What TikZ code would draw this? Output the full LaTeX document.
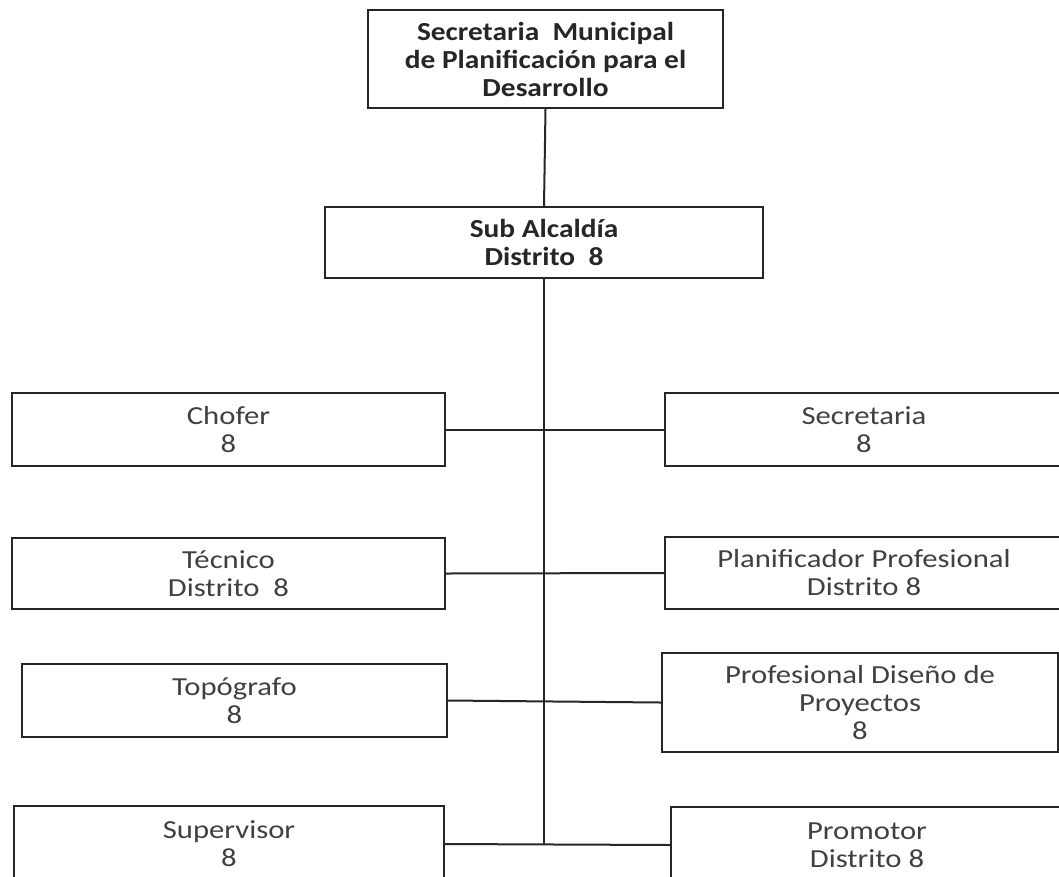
\documentclass[tikz,border=0pt]{standalone}
\usepackage{fontspec}
\setmainfont{Carlito}[FakeStretch=1.18]
\newfontfamily\headfont{Carlito}[FakeStretch=1.13]
\begin{document}
\begin{tikzpicture}[x=1pt,y=-1pt,
  box/.style={draw=black!85, line width=2pt, fill=white, align=center, inner sep=0pt,
              text=black!75, font=\fontsize{26}{28}\selectfont},
  headbox/.style={box, text=black!85, font=\headfont\bfseries\fontsize{26}{28}\selectfont},
  link/.style={draw=black!85, line width=2pt}]
\useasboundingbox (0,0) rectangle (1059,876);
\clip (0,0) rectangle (1059,876);
\fill[white] (0,0) rectangle (1059,876);

\node[headbox, minimum width=355pt, minimum height=98pt] (top) at (545.5,59)
  {Secretaria\ \ Municipal\\de Planificación para el\\Desarrollo};
\node[headbox, minimum width=438pt, minimum height=71pt] (sub) at (544,242.5)
  {Sub Alcaldía\\Distrito\ \ 8};

\node[box, minimum width=433pt, minimum height=73pt] (chofer) at (228.5,429.5) {Chofer\\8};
\node[box, minimum width=398pt, minimum height=73pt] (secr) at (864,429.5) {Secretaria\\8};
\node[box, minimum width=433pt, minimum height=71pt] (tec) at (228.5,573.5) {Técnico\\Distrito\ \ 8};
\node[box, minimum width=398pt, minimum height=72pt] (plan) at (864,573) {Planificador Profesional\\Distrito 8};
\node[box, minimum width=425pt, minimum height=73pt] (topo) at (234.5,700.5) {Topógrafo\\8};
\node[box, minimum width=396pt, minimum height=99pt] (prof) at (860,702.5) {Profesional Diseño de\\Proyectos\\8};
\node[box, minimum width=430pt, minimum height=76pt] (sup) at (229,844) {Supervisor\\8};
\node[box, minimum width=392pt, minimum height=76pt] (prom) at (867,845) {Promotor\\Distrito 8};

\coordinate (trunkend) at (sub.south |- sup.east);
\draw[link] (top.south) -- (sub.north);
\draw[link] (sub.south) -- (trunkend);
\draw[link] (chofer.east) -- (secr.west);
\draw[link] (tec.east) -- (plan.west);
\draw[link] (topo.east) -- (prof.west);
\draw[link] (sup.east) -- (prom.west);
\end{tikzpicture}
\end{document}
